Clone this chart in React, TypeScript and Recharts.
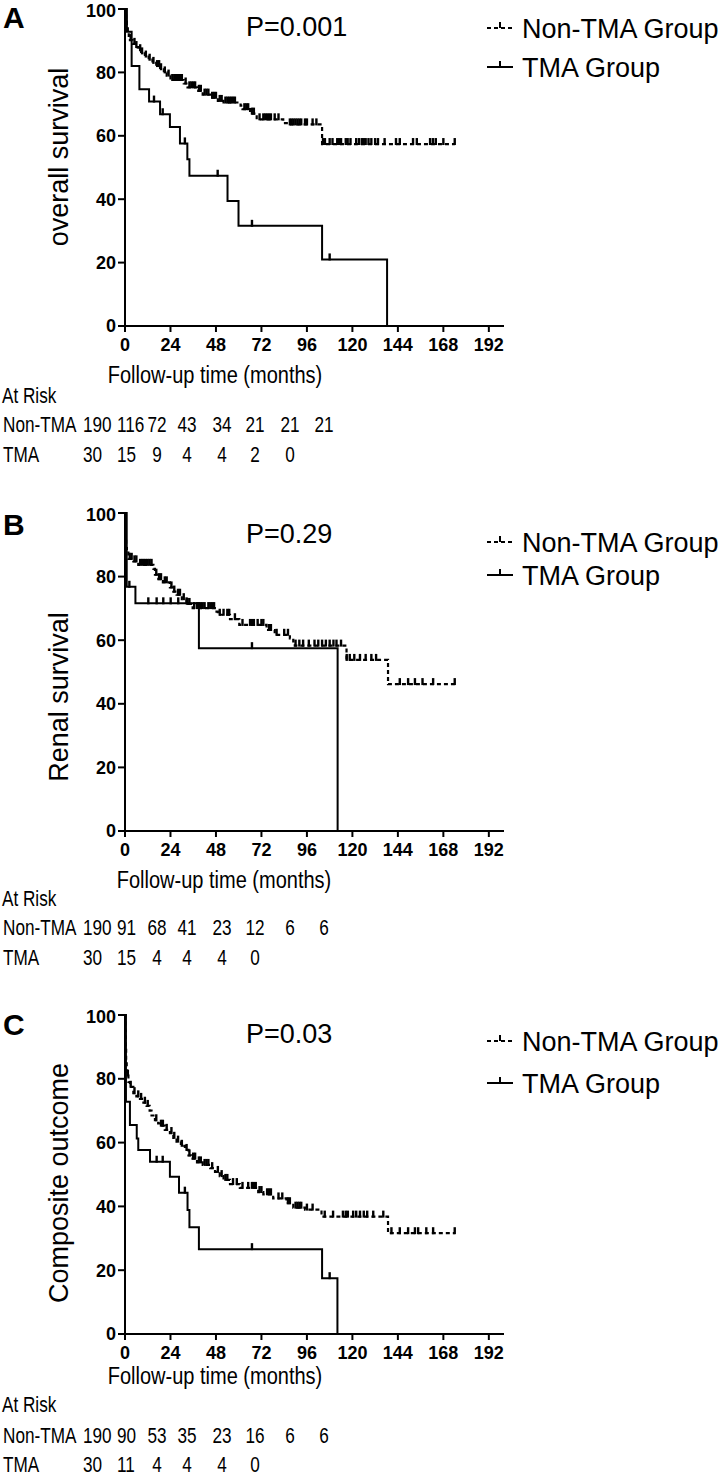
import React from 'react';
import { ComposedChart, Line, XAxis, YAxis } from 'recharts';

const monthTicks = [0, 24, 48, 72, 96, 120, 144, 168, 192];
const survivalTicks = [0, 20, 40, 60, 80, 100];
const groupNames = ['Non-TMA Group', 'TMA Group'];
const riskRowNames = ['Non-TMA', 'TMA'];

// Panel A - overall survival: [month, % surviving] at each step
const osNonTmaSteps: [number, number][] = [
  [0, 100], [0.3, 98], [0.6, 96], [1, 94.5], [1.5, 93], [2, 91.5], [2.6, 90.2], [4, 89], [5.5, 88],
  [7, 87], [8.5, 86], [10.5, 85], [12.5, 84], [14.5, 83], [16.5, 82], [18.5, 81], [20.5, 80], [22, 79],
  [24, 77.6], [31, 76.5], [33, 75.3], [38, 74.2], [41, 73], [45, 72], [49, 71], [52, 70.5], [61, 69.5],
  [62, 68.4], [66, 67], [69.5, 65.2], [83.5, 64], [86, 63.6], [104, 57.4], [174, 57.4],
];
const osNonTmaCensored = [
  3, 5, 6, 8, 9, 11, 13, 15, 17, 18, 19, 21, 23, 25, 26, 27, 28, 29, 30, 32, 34, 35, 36, 37, 39, 40,
  42, 43, 44, 46, 47, 48, 50, 51, 53, 54, 55, 56, 57, 58, 63, 64, 65, 67, 68, 71, 73, 74, 75, 76, 77,
  79, 81, 87, 88, 89, 90, 91, 92, 93, 95, 96, 99, 101, 104.5, 105.5, 108, 109.5, 112, 113, 114, 116.5,
  117.5, 119, 122, 123.5, 125, 126, 127, 128.5, 130, 132, 133.5, 137, 143, 145, 152, 154, 161, 162.5,
  164, 168, 174,
];
const osTmaSteps: [number, number][] = [
  [0, 100], [1, 92.8], [3.5, 82], [7.6, 74.7], [12.7, 70.8], [18.5, 66.8], [23.7, 62.8], [29, 57.6],
  [32.9, 52.6], [34, 47.4], [54.1, 39.4], [59.9, 31.6], [104, 21], [138.3, 0],
];
const osTmaCensored = [15.3, 19.9, 31.6, 48.9, 67, 108];
const osAtRiskNonTma = ['190', '116', '72', '43', '34', '21', '21', '21'];
const osAtRiskTma = ['30', '15', '9', '4', '4', '2', '0'];

// Panel B - renal survival
const renalNonTmaSteps: [number, number][] = [
  [0, 100], [0.2, 95], [0.4, 92], [0.6, 89], [1, 87.9], [1.8, 85.6], [4.4, 84.8], [7, 83.7],
  [15, 82.4], [15.8, 80.6], [17.6, 79.2], [20, 78.2], [23.7, 76.6], [25.5, 75.3], [27.2, 74.3],
  [30, 72.9], [32.5, 71.4], [35.7, 70.1], [48.3, 69], [49, 68], [55.4, 66.6], [60.3, 64.8],
  [74.7, 63.2], [79, 61.7], [87, 60.6], [88.8, 59.6], [89.6, 58.3], [116.9, 53.8], [138.8, 46.2],
  [174, 46.2],
];
const renalNonTmaCensored = [
  2.5, 3.5, 5, 6, 8, 9, 10, 11, 12, 13, 14, 16.5, 18, 19, 21, 22, 24.5, 26, 28, 29, 31, 33, 34, 36.5,
  38, 39, 40, 41, 42, 44, 45, 46, 47, 50, 52, 54, 55, 58, 62, 66, 67, 68, 70, 72, 73, 76, 77, 80, 84,
  86, 90, 92, 94, 97, 100, 102, 104, 106, 108, 110, 111.6, 114, 117, 118.6, 121, 124, 127, 130, 132.5,
  145, 149.4, 153, 157, 162.6, 174,
];
const renalTmaSteps: [number, number][] = [
  [0, 100], [0.9, 76.8], [5.5, 71.6], [39, 57.5], [112.2, 0],
];
const renalTmaCensored = [2.3, 12.3, 16.7, 20.2, 24.1, 28.1, 32.5, 67];
const renalAtRiskNonTma = ['190', '91', '68', '41', '23', '12', '6', '6'];
const renalAtRiskTma = ['30', '15', '4', '4', '4', '0'];

// Panel C - composite outcome
const compNonTmaSteps: [number, number][] = [
  [0, 100], [0.2, 95], [0.4, 90], [0.6, 86], [0.9, 81], [1.8, 79], [2.6, 77.5], [4.4, 75.5], [6, 74.5],
  [7.9, 73.7], [9.7, 72.5], [11.4, 71.5], [13, 70], [14, 68.5], [15.8, 67], [17.5, 66], [18.5, 65.3],
  [21, 64], [23.7, 63], [25.5, 61.5], [27.2, 60.3], [29.5, 59], [31.6, 57.7], [33.5, 56], [35, 55],
  [38, 53.8], [41, 53], [45, 52], [47.5, 50.8], [50, 49.5], [52, 48.3], [55.4, 47], [60.6, 45.8],
  [70.3, 44.5], [73, 43.8], [78.2, 42.5], [85.2, 41], [88.8, 39.6], [95, 39], [103.7, 36.8],
  [138.8, 31.6], [174, 31.6],
];
const compNonTmaCensored = [
  1.5, 3, 5, 7, 8.5, 10.5, 12, 16.5, 19, 20, 22, 24.5, 26, 28, 30, 32.5, 34, 36, 37, 39, 40, 42, 43,
  44, 46, 49, 51, 53, 54, 57, 59, 62, 65, 67, 68, 69, 71, 72, 75, 76, 77, 81, 83, 86, 87, 90, 91, 92,
  93, 96, 99, 105.4, 109.8, 115, 116.5, 117.6, 120.4, 122, 124, 126, 127.8, 131, 136.3, 140.6, 145,
  149.4, 153, 154.7, 159, 162.6, 174,
];
const compTmaSteps: [number, number][] = [
  [0, 100], [0.5, 72.8], [2.6, 65.5], [6.2, 61.3], [7, 57.7], [13.2, 54], [23.7, 49.3], [28.5, 44.3],
  [33, 38.9], [34, 33.5], [39, 26.6], [104, 17.5], [112.1, 0],
];
const compTmaCensored = [16.7, 19.9, 31.6, 67, 108];
const compAtRiskNonTma = ['190', '90', '53', '35', '23', '16', '6', '6'];
const compAtRiskTma = ['30', '11', '4', '4', '4', '0'];

const FONT = "'Liberation Sans', Arial, sans-serif";

// where each panel sits on the page (px, relative to the panel top)
const riskCols = [83, 117, 157, 187, 222, 255, 290, 324];
const layouts = [
  { top: 0, plotH: 317, letterY: 28, legendY: [28, 67], titleX: 215, titleY: 383, riskY: [403, 432, 462], yTitleY: 157 },
  { top: 504, plotH: 318, letterY: 31, legendY: [38, 71], titleX: 224, titleY: 384, riskY: [402, 431, 461], yTitleY: 193 },
  { top: 1006, plotH: 319, letterY: 29, legendY: [35, 77], titleX: 215, titleY: 378, riskY: [406, 437, 466], yTitleY: 177 },
];

type Pt = { t: number; v: number; c: boolean };

function kmSeries(steps: [number, number][], censored: number[]): Pt[] {
  const pts: Pt[] = steps.map(([t, v]) => ({ t, v, c: false }));
  censored.forEach((t) => {
    let v = steps[0][1];
    for (const [st, sv] of steps) if (st <= t) v = sv;
    pts.push({ t, v, c: true });
  });
  return pts.sort((a, b) => a.t - b.t || (a.c ? 1 : 0) - (b.c ? 1 : 0));
}

const censorDot = (props: any) => {
  const { cx, cy, payload, index } = props;
  if (!payload || !payload.c) return <g key={`d-${index}`} />;
  return <line key={`d-${index}`} x1={cx} x2={cx} y1={cy - 6} y2={cy + 1} stroke="#000" strokeWidth={2.4} />;
};

// condensed text (no narrow font installed, so squeeze it)
function Narrow({ x, y, anchor = 'start', size = 22, sx = 0.78, children }: any) {
  return (
    <text transform={`translate(${x} ${y}) scale(${sx} 1)`} textAnchor={anchor} fontFamily={FONT} fontSize={size}>
      {children}
    </text>
  );
}

interface PanelProps {
  letter: string;
  pValue: string;
  yTitle: string;
  nonTma: Pt[];
  tma: Pt[];
  riskNonTma: string[];
  riskTma: string[];
  layout: (typeof layouts)[number];
}

function KmPanel({ letter, pValue, yTitle, nonTma, tma, riskNonTma, riskTma, layout }: PanelProps) {
  const plotTop = 9;
  const height = plotTop + layout.plotH + 64;
  const tick = { fontSize: 18, fontWeight: 'bold', fill: '#000', fontFamily: FONT };
  const axis = { stroke: '#000', strokeWidth: 2 };

  const riskText = (vals: string[], y: number) =>
    vals.map((v, i) => (
      <Narrow key={i} x={riskCols[i]} y={y} anchor={i < 2 ? 'start' : 'middle'}>
        {v}
      </Narrow>
    ));

  return (
    <div style={{ position: 'absolute', left: 0, top: layout.top, width: 726, height: 480 }}>
      <ComposedChart width={726} height={height} margin={{ top: plotTop, right: 222, bottom: 0, left: 0 }}>
        <XAxis
          type="number"
          dataKey="t"
          domain={[0, 200]}
          ticks={monthTicks}
          height={64}
          tick={tick}
          axisLine={axis}
          tickLine={axis}
          tickSize={6}
          tickMargin={6}
        />
        <YAxis
          type="number"
          dataKey="v"
          domain={[0, 100]}
          ticks={survivalTicks}
          width={125}
          tick={tick}
          axisLine={axis}
          tickLine={axis}
          tickSize={7}
          tickMargin={2}
        />
        <Line
          data={nonTma}
          dataKey="v"
          type="stepAfter"
          stroke="#000"
          strokeWidth={2.2}
          strokeDasharray="4 3"
          dot={censorDot}
          activeDot={false}
          isAnimationActive={false}
        />
        <Line
          data={tma}
          dataKey="v"
          type="stepAfter"
          stroke="#000"
          strokeWidth={2}
          dot={censorDot}
          activeDot={false}
          isAnimationActive={false}
        />
      </ComposedChart>
      <svg width={726} height={480} style={{ position: 'absolute', left: 0, top: 0, pointerEvents: 'none' }}>
        <text x={3} y={layout.letterY} fontFamily={FONT} fontWeight="bold" fontSize={30}>{letter}</text>
        <text x={246} y={layout.letterY + 8} fontFamily={FONT} fontSize={27}>{pValue}</text>
        <text
          transform={`translate(59 ${layout.yTitleY}) rotate(-90)`}
          textAnchor="middle"
          dominantBaseline="central"
          fontFamily={FONT}
          fontSize={27}
        >
          {yTitle}
        </text>
        {groupNames.map((name, i) => {
          const y = layout.legendY[i];
          return (
            <g key={name}>
              <line x1={487} x2={513} y1={y} y2={y} stroke="#000" strokeWidth={2} strokeDasharray={i === 0 ? '4 3' : undefined} />
              <line x1={500} x2={500} y1={y - 6} y2={y} stroke="#000" strokeWidth={2} />
              <text x={522} y={y + 10} fontFamily={FONT} fontSize={27}>{name}</text>
            </g>
          );
        })}
        <Narrow x={layout.titleX} y={layout.titleY} anchor="middle" size={23} sx={0.87}>
          Follow-up time (months)
        </Narrow>
        <Narrow x={2} y={layout.riskY[0]}>At Risk</Narrow>
        <Narrow x={3} y={layout.riskY[1]}>{riskRowNames[0]}</Narrow>
        <Narrow x={3} y={layout.riskY[2]}>{riskRowNames[1]}</Narrow>
        {riskText(riskNonTma, layout.riskY[1])}
        {riskText(riskTma, layout.riskY[2])}
      </svg>
    </div>
  );
}

export default function App() {
  return (
    <div style={{ position: 'absolute', left: 0, top: 0, width: 726, height: 1475, background: '#fff', overflow: 'hidden' }}>
      <KmPanel
        letter="A"
        pValue="P=0.001"
        yTitle="overall survival"
        nonTma={kmSeries(osNonTmaSteps, osNonTmaCensored)}
        tma={kmSeries(osTmaSteps, osTmaCensored)}
        riskNonTma={osAtRiskNonTma}
        riskTma={osAtRiskTma}
        layout={layouts[0]}
      />
      <KmPanel
        letter="B"
        pValue="P=0.29"
        yTitle="Renal survival"
        nonTma={kmSeries(renalNonTmaSteps, renalNonTmaCensored)}
        tma={kmSeries(renalTmaSteps, renalTmaCensored)}
        riskNonTma={renalAtRiskNonTma}
        riskTma={renalAtRiskTma}
        layout={layouts[1]}
      />
      <KmPanel
        letter="C"
        pValue="P=0.03"
        yTitle="Composite outcome"
        nonTma={kmSeries(compNonTmaSteps, compNonTmaCensored)}
        tma={kmSeries(compTmaSteps, compTmaCensored)}
        riskNonTma={compAtRiskNonTma}
        riskTma={compAtRiskTma}
        layout={layouts[2]}
      />
    </div>
  );
}
